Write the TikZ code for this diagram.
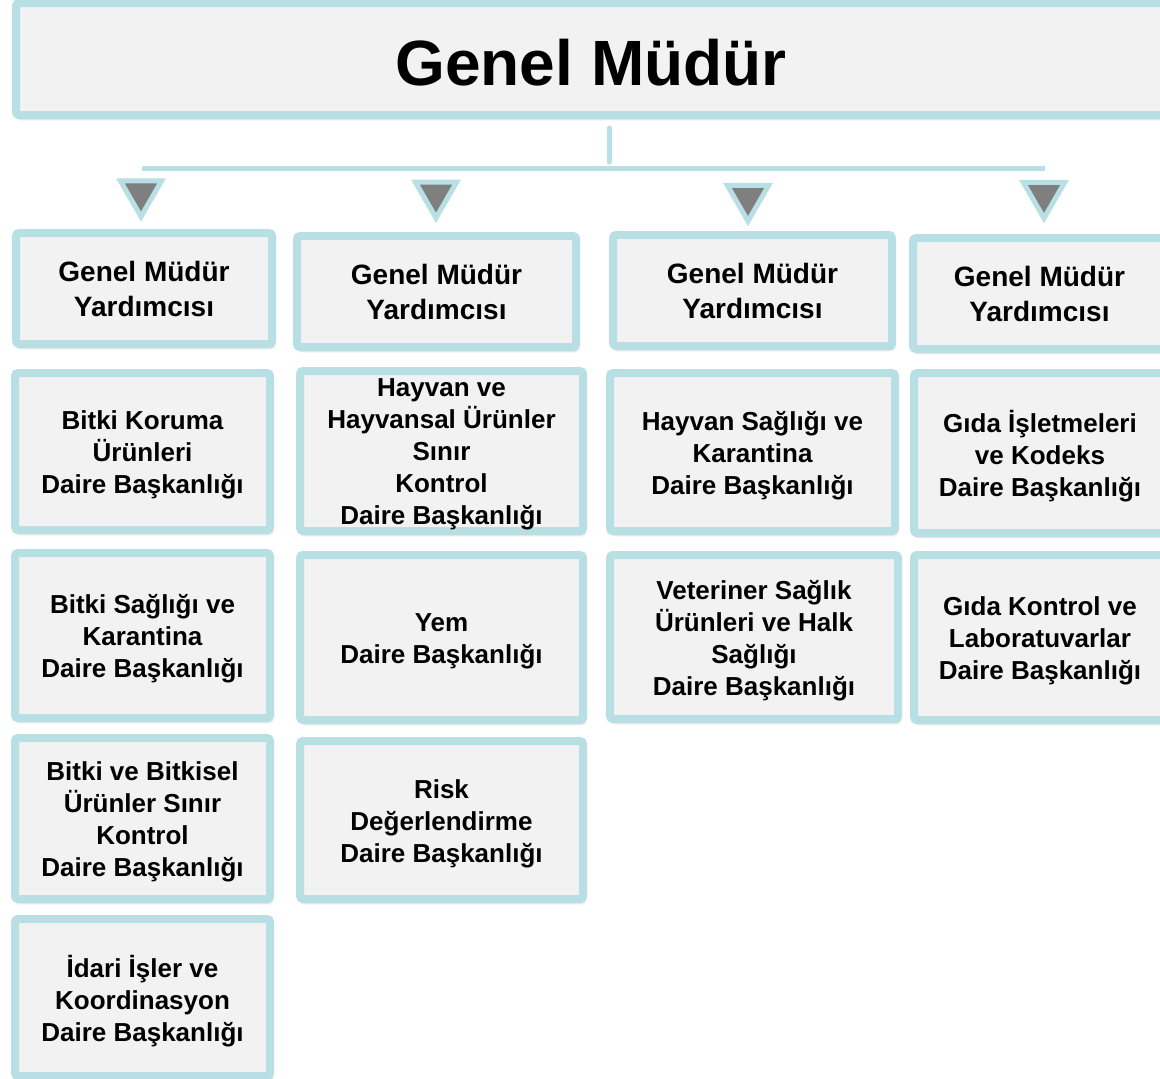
\documentclass[tikz,border=0pt]{standalone}
\usepackage{fontspec}
\setmainfont{Liberation Sans}
\usetikzlibrary{shapes.geometric,shadows.blur}
\definecolor{bordc}{HTML}{B8DFE3}
\definecolor{boxfill}{HTML}{F2F2F2}
\definecolor{trifill}{HTML}{7F7F7F}
\tikzset{
  frame/.style={draw=bordc, line width=8pt, fill=boxfill, rounded corners=3pt,
    inner sep=0pt,
    blur shadow={shadow xshift=1.5pt, shadow yshift=-3pt, shadow blur radius=3pt, shadow opacity=40}},
  orgbox/.style={frame},
  gmybox/.style={frame},
  titlebox/.style={frame},
  orgboxtext/.style={inner sep=0pt, align=center, text=black, yshift=-3.5pt,
    font=\bfseries\fontsize{26}{32}\selectfont},
  gmyboxtext/.style={inner sep=0pt, align=center, text=black, yshift=-0.5pt,
    font=\bfseries\fontsize{28}{35}\selectfont},
  titleboxtext/.style={inner sep=0pt, align=center, text=black, yshift=-3.5pt,
    font=\bfseries\fontsize{64}{76}\selectfont},
  tri/.style={regular polygon, regular polygon sides=3, shape border rotate=180,
    minimum size=47.7pt, inner sep=0pt, draw=bordc, fill=trifill, line width=5pt},
  conn/.style={draw=bordc, line width=5pt}
}
% #1 style, #2 name, #3 x1, #4 y1, #5 x2, #6 y2, #7 text
\newcommand\mkbox[7]{%
  \node[#1, minimum width={#5-#3-8}, minimum height={#6-#4-8}] (#2)
    at ({(#3+#5)/2},{(#4+#6)/2}) {};
  \node[#1text] (#2-text) at (#2.center) {#7};}
\begin{document}
\begin{tikzpicture}[x=1pt,y=-1pt]
\useasboundingbox (0,0) rectangle (1160,1079);
\clip (0,0) rectangle (1160,1079);

% top
\mkbox{titlebox}{gm}{12}{-1}{1170}{119}{Genel Müdür}

% connectors
\coordinate (stubtop) at (609,128);
\coordinate (stubbot) at (609,162);
\coordinate (barL) at (142,168);
\coordinate (barR) at (1045,168);
\draw[conn, line cap=round] (stubtop) -- (stubbot);
\draw[conn] (barL) -- (barR);

% triangles
\node[tri] (t1) at (141,192.7) {};
\node[tri] (t2) at (436,194) {};
\node[tri] (t3) at (748,197.3) {};
\node[tri] (t4) at (1044,194.3) {};

% row 1
\mkbox{gmybox}{g1}{12}{229}{276}{348}{Genel Müdür\\Yardımcısı}
\mkbox{gmybox}{g2}{293}{232}{580}{351}{Genel Müdür\\Yardımcısı}
\mkbox{gmybox}{g3}{609}{231}{896}{350}{Genel Müdür\\Yardımcısı}
\mkbox{gmybox}{g4}{909}{234}{1170}{353}{Genel Müdür\\Yardımcısı}

% row 2
\mkbox{orgbox}{b21}{11}{369}{274}{534}{Bitki Koruma\\Ürünleri\\Daire Başkanlığı}
\mkbox{orgbox}{b22}{296}{367}{587}{535}{Hayvan ve\\Hayvansal Ürünler\\Sınır\\Kontrol\\Daire Başkanlığı}
\mkbox{orgbox}{b23}{606}{369}{899}{535}{Hayvan Sağlığı ve\\Karantina\\Daire Başkanlığı}
\mkbox{orgbox}{b24}{910}{369}{1170}{537}{Gıda İşletmeleri\\ve Kodeks\\Daire Başkanlığı}

% row 3
\mkbox{orgbox}{b31}{11}{549}{274}{722}{Bitki Sağlığı ve\\Karantina\\Daire Başkanlığı}
\mkbox{orgbox}{b32}{296}{551}{587}{724}{Yem\\Daire Başkanlığı}
\mkbox{orgbox}{b33}{606}{551}{902}{723}{Veteriner Sağlık\\Ürünleri ve Halk\\Sağlığı\\Daire Başkanlığı}
\mkbox{orgbox}{b34}{910}{551}{1170}{724}{Gıda Kontrol ve\\Laboratuvarlar\\Daire Başkanlığı}

% row 4
\mkbox{orgbox}{b41}{11}{734}{274}{903}{Bitki ve Bitkisel\\Ürünler Sınır\\Kontrol\\Daire Başkanlığı}
\mkbox{orgbox}{b42}{296}{737}{587}{903}{Risk\\Değerlendirme\\Daire Başkanlığı}

% row 5
\mkbox{orgbox}{b51}{11}{915}{274}{1080}{İdari İşler ve\\Koordinasyon\\Daire Başkanlığı}
\end{tikzpicture}
\end{document}
